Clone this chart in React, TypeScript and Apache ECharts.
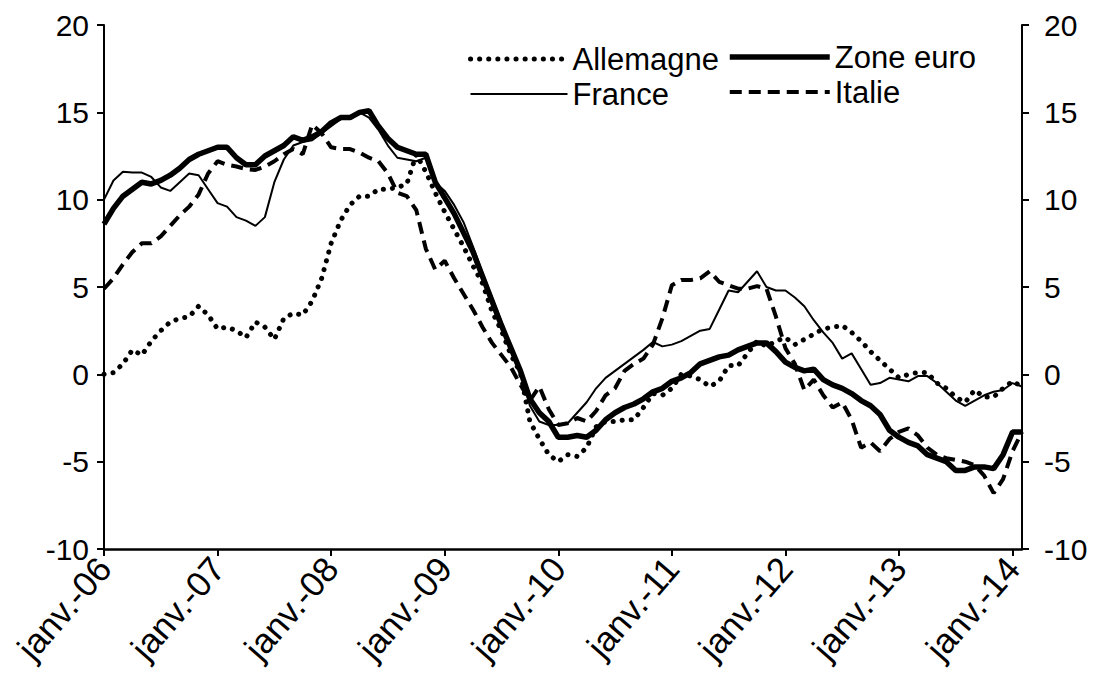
import React, { useEffect, useRef } from "react";
import * as echarts from "echarts";

const MONTHS = ["janv.", "févr.", "mars", "avr.", "mai", "juin", "juil.", "août", "sept.", "oct.", "nov.", "déc."];
const YEARS = ["06", "07", "08", "09", "10", "11", "12", "13", "14"];
const N_POINTS = 98; // janv.-06 .. févr.-14

const CATEGORIES: string[] = [];
YEARS.forEach((y) => MONTHS.forEach((m) => CATEGORIES.push(`${m}-${y}`)));
const CATS = CATEGORIES.slice(0, N_POINTS);

const ALLEMAGNE = [
  0.0, 0.1, 0.6, 1.4, 1.1, 1.9, 2.5, 3.0, 3.2, 3.3,
  3.9, 3.4, 2.6, 2.7, 2.5, 2.1, 3.0, 2.7, 2.0, 3.2,
  3.5, 3.4, 4.2, 5.5, 7.5, 8.8, 9.7, 10.2, 10.2, 10.6,
  10.6, 10.7, 10.9, 12.6, 11.6, 10.4, 9.3, 8.3, 7.3, 6.2,
  5.2, 3.6, 2.5, 1.1, 0.1, -2.7, -3.7, -4.6, -5.0, -4.6,
  -4.7, -4.2, -3.0, -2.7, -2.7, -2.6, -2.6, -1.9, -1.1, -1.2,
  -0.8, 0.0, -0.1, -0.3, -0.7, -0.4, 0.5, 0.5, 1.2, 1.9,
  1.6, 1.9, 2.1, 1.7, 2.0, 2.3, 2.6, 2.7, 2.8, 2.4,
  1.9, 1.3, 0.8, 0.3, -0.2, 0.0, 0.1, 0.1, -0.5, -0.8,
  -1.3, -1.6, -0.9, -1.3, -1.3, -0.8, -0.4, -0.7,
];

const ZONE_EURO = [
  8.6, 9.5, 10.2, 10.6, 11.0, 10.9, 11.1, 11.4, 11.8, 12.3,
  12.6, 12.8, 13.0, 13.0, 12.4, 12.0, 12.0, 12.5, 12.8, 13.1,
  13.6, 13.4, 13.6, 13.9, 14.4, 14.7, 14.7, 15.0, 15.1, 14.2,
  13.5, 13.0, 12.8, 12.6, 12.6, 11.0, 10.1, 9.2, 8.1, 7.0,
  5.6, 4.2, 2.8, 1.5, 0.2, -1.4, -2.2, -2.7, -3.6, -3.6,
  -3.5, -3.6, -3.2, -2.6, -2.2, -1.9, -1.7, -1.4, -1.0, -0.8,
  -0.4, -0.2, 0.1, 0.6, 0.8, 1.0, 1.1, 1.4, 1.6, 1.8,
  1.8, 1.3, 0.7, 0.4, 0.2, 0.3, -0.3, -0.6, -0.8, -1.1,
  -1.5, -1.8, -2.3, -3.2, -3.6, -3.9, -4.1, -4.6, -4.8, -5.0,
  -5.5, -5.5, -5.3, -5.3, -5.4, -4.6, -3.3, -3.3,
];

const FRANCE = [
  10.0, 11.1, 11.6, 11.55, 11.55, 11.3, 10.7, 10.5, 11.0, 11.5,
  11.4, 10.6, 9.8, 9.6, 9.0, 8.8, 8.5, 9.0, 11.0, 12.3,
  13.1, 13.3, 13.4, 13.8, 14.2, 14.6, 14.8, 15.0, 14.7, 14.0,
  13.1, 12.4, 12.3, 12.2, 12.4, 11.0, 10.5, 9.7, 8.7, 7.3,
  5.8, 4.4, 3.0, 1.5, 0.2, -1.8, -2.7, -2.9, -2.9, -2.8,
  -2.2, -1.6, -0.8, -0.2, 0.2, 0.6, 1.0, 1.4, 1.85, 1.6,
  1.7, 1.9, 2.2, 2.5, 2.6, 3.7, 4.8, 4.7, 5.3, 5.9,
  5.0, 4.8, 4.8, 4.4, 3.9, 3.1, 2.4, 1.8, 0.9, 1.2,
  0.3, -0.6, -0.5, -0.2, -0.3, -0.4, -0.1, -0.1, -0.5, -1.0,
  -1.5, -1.8, -1.5, -1.2, -1.0, -0.9, -0.5, -0.7,
];

const ITALIE = [
  4.9, 5.5, 6.3, 7.0, 7.5, 7.5, 7.9, 8.5, 9.1, 9.6,
  10.3, 11.5, 12.2, 12.0, 11.9, 11.75, 11.7, 11.9, 12.2, 12.6,
  12.9, 12.6, 14.3, 13.8, 13.0, 12.9, 12.9, 12.7, 12.4, 12.2,
  11.5, 10.4, 10.2, 9.4, 7.2, 6.0, 6.5, 5.5, 4.6, 3.7,
  2.7, 1.8, 1.1, 0.4, -0.6, -1.5, -0.7, -2.0, -2.9, -2.8,
  -2.5, -2.7, -2.1, -1.2, -0.8, 0.2, 0.6, 0.9, 1.7, 3.2,
  5.1, 5.4, 5.4, 5.5, 5.9, 5.3, 5.1, 4.9, 4.9, 5.05,
  4.9, 3.3, 1.5, 0.6, -0.9, -0.3, -1.2, -1.9, -1.6, -2.6,
  -4.2, -3.9, -4.4, -3.7, -3.3, -3.1, -3.5, -4.2, -4.6, -4.8,
  -4.9, -5.0, -5.2, -5.8, -6.8, -6.0, -4.4, -3.3,
];

const Y_MIN = -10;
const Y_MAX = 20;
const Y_STEP = 5;

const FONT = "Arial, 'Liberation Sans', Helvetica, sans-serif";
const INK = "#000";

const STYLE_ALLEMAGNE = { color: INK, width: 5, type: [0.1, 9], cap: "round" };
const STYLE_ZONE = { color: INK, width: 5.5 };
const STYLE_FRANCE = { color: INK, width: 2 };
const STYLE_ITALIE = { color: INK, width: 4, type: [12, 7] };

export default function App() {
  const ref = useRef<HTMLDivElement>(null);

  useEffect(() => {
    if (!ref.current) return;
    const chart = echarts.init(ref.current, undefined, { renderer: "svg" });

    const yAxisBase = (position: "left" | "right") => ({
      type: "value",
      position,
      min: Y_MIN,
      max: Y_MAX,
      interval: Y_STEP,
      splitLine: { show: false },
      axisLine: { show: true, lineStyle: { color: INK, width: 2 } },
      axisTick: { show: true, length: 7, lineStyle: { color: INK, width: 2 } },
      axisLabel: {
        color: INK,
        fontFamily: FONT,
        fontSize: 30,
        margin: position === "left" ? 15 : 22,
      },
    });

    const legendText = { color: INK, fontFamily: FONT, fontSize: 31, lineHeight: 32 };
    const hidden = { opacity: 0 };

    chart.setOption({
      animation: false,
      backgroundColor: "#fff",
      grid: { left: 104, right: 78, top: 25, bottom: 142, containLabel: false },
      legend: [
        {
          data: [
            { name: "Allemagne", itemStyle: hidden, lineStyle: STYLE_ALLEMAGNE },
            { name: "France", itemStyle: hidden, lineStyle: STYLE_FRANCE },
          ],
          orient: "vertical",
          left: 468,
          top: 43,
          padding: 0,
          itemWidth: 97,
          itemHeight: 14,
          itemGap: 3,
          textStyle: legendText,
        },
        {
          data: [
            { name: "Zone euro", itemStyle: hidden, lineStyle: STYLE_ZONE },
            { name: "Italie", itemStyle: hidden, lineStyle: STYLE_ITALIE },
          ],
          orient: "vertical",
          left: 727,
          top: 41,
          padding: 0,
          itemWidth: 100,
          itemHeight: 14,
          itemGap: 3,
          textStyle: legendText,
        },
      ],
      xAxis: {
        type: "category",
        data: CATS,
        boundaryGap: false,
        axisLine: { onZero: false, lineStyle: { color: INK, width: 2.5 } },
        axisTick: { show: true, interval: 11, length: 7, lineStyle: { color: INK, width: 2 } },
        axisLabel: {
          interval: 11,
          rotate: 49,
          color: INK,
          fontFamily: FONT,
          fontSize: 35,
          margin: 13,
        },
        splitLine: { show: false },
      },
      yAxis: [yAxisBase("left"), yAxisBase("right")],
      series: [
        {
          name: "Allemagne",
          type: "line",
          data: ALLEMAGNE,
          symbol: "none",
          lineStyle: STYLE_ALLEMAGNE,
          itemStyle: { color: INK },
          z: 3,
        },
        {
          name: "Zone euro",
          type: "line",
          data: ZONE_EURO,
          symbol: "none",
          lineStyle: STYLE_ZONE,
          itemStyle: { color: INK },
          z: 4,
        },
        {
          name: "France",
          type: "line",
          data: FRANCE,
          symbol: "none",
          lineStyle: STYLE_FRANCE,
          itemStyle: { color: INK },
          z: 5,
        },
        {
          name: "Italie",
          type: "line",
          data: ITALIE,
          symbol: "none",
          lineStyle: STYLE_ITALIE,
          itemStyle: { color: INK },
          z: 2,
        },
      ],
    });

    return () => chart.dispose();
  }, []);

  return (
    <div
      ref={ref}
      style={{ position: "fixed", left: 0, top: 0, width: 1100, height: 691, background: "#fff" }}
    />
  );
}
